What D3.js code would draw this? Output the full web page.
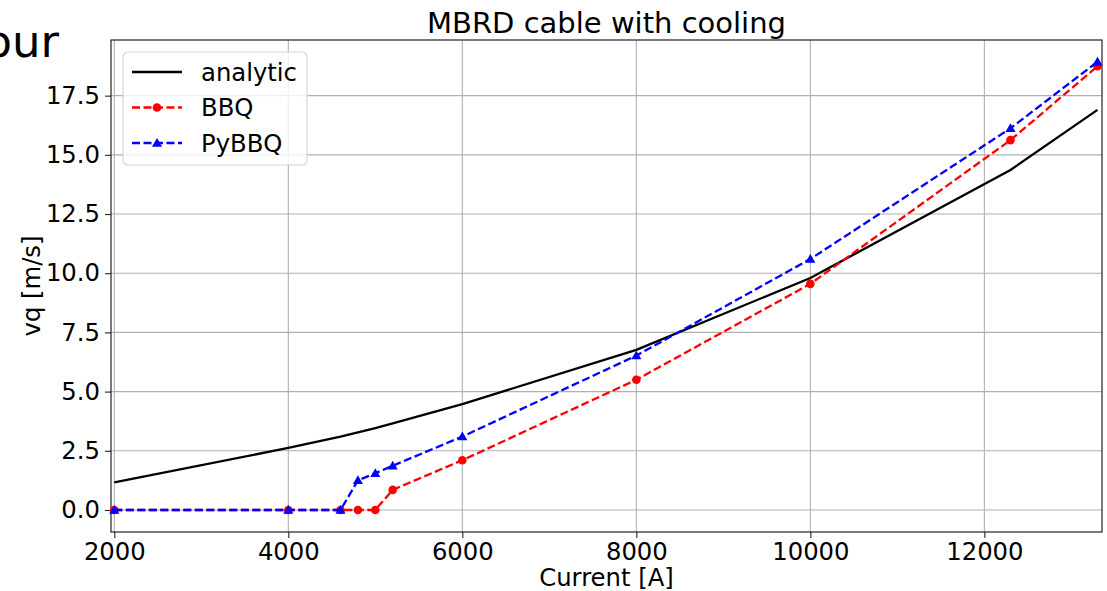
<!DOCTYPE html>
<html>
<head>
<meta charset="utf-8">
<script src="https://cdn.jsdelivr.net/npm/d3@7"></script>
<style>
  html, body { margin: 0; padding: 0; background: #fff; }
  svg { display: block; font-family: "DejaVu Sans", sans-serif; }
</style>
</head>
<body>
<svg id="chart" width="1107" height="591"></svg>
<script>
// Quench velocity vs. current for the MBRD cable with cooling
const current  = [2000, 4000, 4600, 4800, 5000, 5200, 6000, 8000, 10000, 12300, 13300];
const analytic = [1.17, 2.62, 3.10, 3.28, 3.46, 3.66, 4.47, 6.76, 9.80, 14.36, 16.90];
const bbq      = [0, 0, 0, 0, 0, 0.85, 2.10, 5.50, 9.55, 15.62, 18.74];
const pybbq    = [0, 0, 0, 1.25, 1.55, 1.87, 3.10, 6.52, 10.60, 16.12, 18.93];

const xTicks = [2000, 4000, 6000, 8000, 10000, 12000];
const yTicks = [0, 2.5, 5, 7.5, 10, 12.5, 15, 17.5];

const svg = d3.select("#chart");
const plot = { left: 111, right: 1102, top: 40, bottom: 532 };
const fs = 24.3;

const x = d3.scaleLinear().domain([1962, 13352]).range([plot.left, plot.right]);
const y = d3.scaleLinear().domain([-0.93, 19.85]).range([plot.bottom, plot.top]);

// fragment of a heading from the surrounding page
svg.append("text").attr("x", 59).attr("y", 57).attr("text-anchor", "end")
  .attr("font-size", 45).attr("fill", "#000").text("our");

// grid
const grid = svg.append("g");
grid.selectAll(".gx").data(xTicks).join("line")
  .attr("x1", d => x(d)).attr("x2", d => x(d))
  .attr("y1", plot.top).attr("y2", plot.bottom)
  .attr("stroke", "#b0b0b0").attr("stroke-width", 1.1);
grid.selectAll(".gy").data(yTicks).join("line")
  .attr("y1", d => y(d)).attr("y2", d => y(d))
  .attr("x1", plot.left).attr("x2", plot.right)
  .attr("stroke", "#b0b0b0").attr("stroke-width", 1.1);

// axes
const xAxis = d3.axisBottom(x).tickValues(xTicks).tickSize(6).tickPadding(5).tickFormat(d3.format("d"));
const yAxis = d3.axisLeft(y).tickValues(yTicks).tickSize(6).tickPadding(5).tickFormat(d3.format(".1f"));

const gx = svg.append("g").attr("transform", `translate(0,${plot.bottom})`).call(xAxis);
const gy = svg.append("g").attr("transform", `translate(${plot.left},0)`).call(yAxis);
[gx, gy].forEach(g => {
  g.select(".domain").remove();
  g.selectAll(".tick line").attr("stroke", "#222").attr("stroke-width", 1.1);
  g.selectAll(".tick text").attr("font-size", fs).attr("fill", "#000")
    .attr("font-family", "DejaVu Sans");
});
gx.selectAll(".tick text").attr("dy", "0.71em");

// frame
svg.append("rect").attr("x", plot.left).attr("y", plot.top)
  .attr("width", plot.right - plot.left).attr("height", plot.bottom - plot.top)
  .attr("fill", "none").attr("stroke", "#222").attr("stroke-width", 1.2);

// series
const pts = vals => current.map((c, i) => [c, vals[i]]);
const line = d3.line().x(d => x(d[0])).y(d => y(d[1]));

svg.append("path").datum(pts(analytic)).attr("d", line)
  .attr("fill", "none").attr("stroke", "#000").attr("stroke-width", 2.3);

svg.append("path").datum(pts(bbq)).attr("d", line)
  .attr("fill", "none").attr("stroke", "#ff0000").attr("stroke-width", 2.3)
  .attr("stroke-dasharray", "8,3.5");
svg.append("g").selectAll("circle").data(pts(bbq)).join("circle")
  .attr("cx", d => x(d[0])).attr("cy", d => y(d[1])).attr("r", 4.3).attr("fill", "#ff0000");

svg.append("path").datum(pts(pybbq)).attr("d", line)
  .attr("fill", "none").attr("stroke", "#0000ff").attr("stroke-width", 2.3)
  .attr("stroke-dasharray", "8,3.5");
const tri = d3.symbol().type(d3.symbolTriangle).size(44);
svg.append("g").selectAll("path").data(pts(pybbq)).join("path")
  .attr("d", tri).attr("transform", d => `translate(${x(d[0])},${y(d[1]) + 0.8})`)
  .attr("fill", "#0000ff");

// title and axis labels
svg.append("text").attr("x", (plot.left + plot.right) / 2).attr("y", 33)
  .attr("text-anchor", "middle").attr("font-size", 29).attr("fill", "#000")
  .text("MBRD cable with cooling");
svg.append("text").attr("x", (plot.left + plot.right) / 2).attr("y", 586)
  .attr("text-anchor", "middle").attr("font-size", fs).attr("fill", "#000")
  .text("Current [A]");
svg.append("text").attr("transform", `translate(40,${(plot.top + plot.bottom) / 2}) rotate(-90)`)
  .attr("text-anchor", "middle").attr("font-size", fs).attr("fill", "#000")
  .text("vq [m/s]");

// legend
const legend = svg.append("g");
legend.append("rect").attr("x", 123).attr("y", 52).attr("width", 184).attr("height", 113)
  .attr("rx", 5).attr("fill", "#fff").attr("fill-opacity", 0.8)
  .attr("stroke", "#d6d6d6").attr("stroke-width", 1.2);
const items = [
  { name: "analytic", color: "#000", dash: null, marker: null },
  { name: "BBQ", color: "#ff0000", dash: "8,3.5", marker: "circle" },
  { name: "PyBBQ", color: "#0000ff", dash: "8,3.5", marker: "triangle" }
];
items.forEach((it, i) => {
  const cy = 72 + i * 35.5;
  legend.append("line").attr("x1", 132).attr("x2", 182).attr("y1", cy).attr("y2", cy)
    .attr("stroke", it.color).attr("stroke-width", 2.3)
    .attr("stroke-dasharray", it.dash);
  if (it.marker === "circle") {
    legend.append("circle").attr("cx", 157).attr("cy", cy).attr("r", 4.3).attr("fill", it.color);
  } else if (it.marker === "triangle") {
    legend.append("path").attr("d", tri).attr("transform", `translate(157,${cy + 0.8})`).attr("fill", it.color);
  }
  legend.append("text").attr("x", 201).attr("y", cy).attr("dy", "0.36em")
    .attr("font-size", fs).attr("fill", "#000").text(it.name);
});
</script>
</body>
</html>
